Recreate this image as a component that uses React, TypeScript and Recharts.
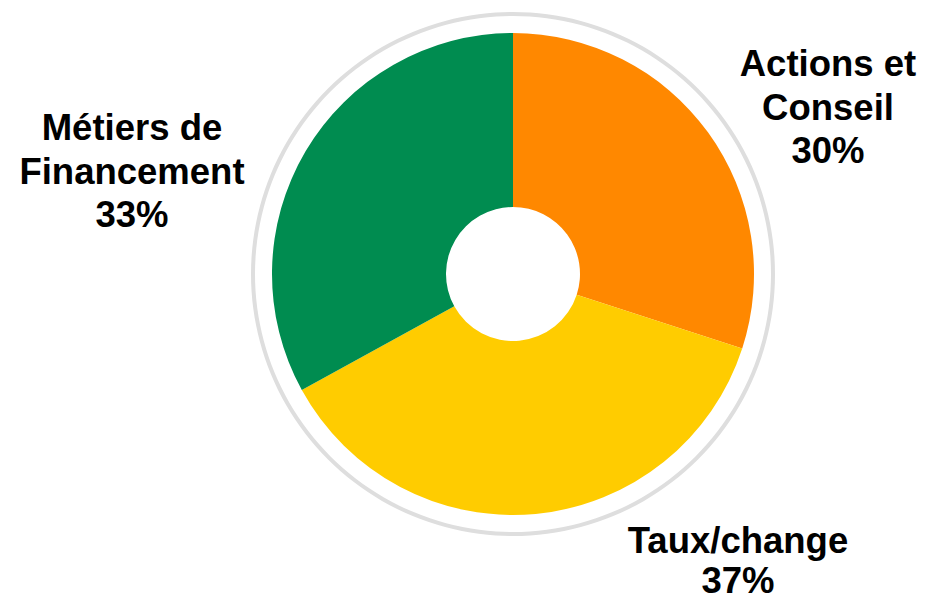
import { PieChart, Pie, Cell } from 'recharts';

const SEGMENTS = ['Actions et Conseil', 'Taux/change', 'Métiers de Financement'];
const SHARES = [30, 37, 33];
const LABEL_LINES = [['Actions et', 'Conseil', '30%'], ['Taux/change', '37%'], ['Métiers de', 'Financement', '33%']];
const COLORS = ['#FF8800', '#FFCC00', '#008C50'];

// where each label sits relative to the pie centre (first baseline), hand placed like the source slide
const LABEL_OFFSETS = [
  { dx: 315, dy: -198, gap: 43.5 },
  { dx: 225, dy: 279, gap: 40 },
  { dx: -381, dy: -134, gap: 43.5 },
];

const CX = 505;
const CY = 266;

const data = SEGMENTS.map((name, i) => ({ name, value: SHARES[i] }));
const ring = [{ name: 'ring', value: 1 }];

const renderLabel = (props: any) => {
  const { cx, cy, index } = props;
  const off = LABEL_OFFSETS[index];
  const lines = LABEL_LINES[index];
  return (
    <text
      key={`lbl-${index}`}
      x={cx + off.dx}
      y={cy + off.dy}
      textAnchor="middle"
      fill="#000"
      fontFamily='"Liberation Sans", Arial, sans-serif'
      fontWeight="bold"
      fontSize={36.5}
    >
      {lines.map((l, i) => (
        <tspan key={i} x={cx + off.dx} dy={i === 0 ? 0 : off.gap}>
          {l}
        </tspan>
      ))}
    </text>
  );
};

export default function App() {
  return (
    <PieChart width={921} height={595} margin={{ top: 0, right: 0, bottom: 0, left: 0 }}>
      <Pie
        data={ring}
        dataKey="value"
        cx={CX}
        cy={CY}
        innerRadius={258}
        outerRadius={262}
        fill="#DEDEDE"
        stroke="none"
        isAnimationActive={false}
      />
      <Pie
        data={data}
        dataKey="value"
        cx={CX}
        cy={CY}
        startAngle={90}
        endAngle={-270}
        innerRadius={67}
        outerRadius={241}
        stroke="none"
        label={renderLabel}
        labelLine={false}
        isAnimationActive={false}
      >
        {data.map((_, i) => (
          <Cell key={i} fill={COLORS[i]} />
        ))}
      </Pie>
    </PieChart>
  );
}
